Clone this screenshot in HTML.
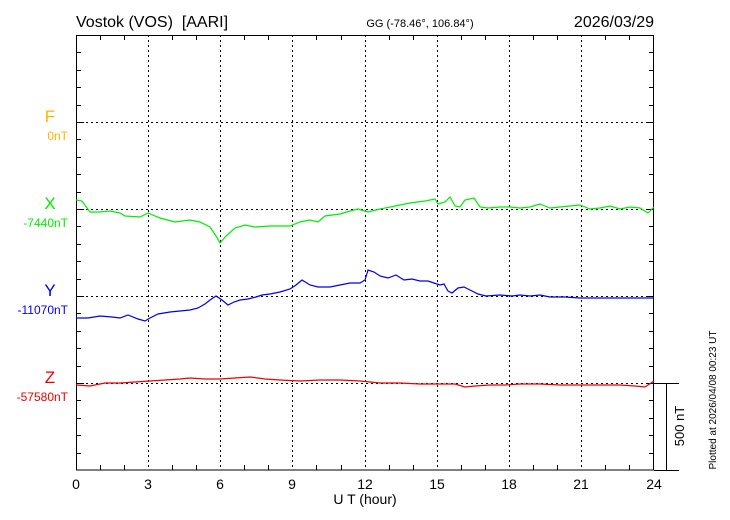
<!DOCTYPE html>
<html><head><meta charset="utf-8"><style>
html,body{margin:0;padding:0;background:#fff;}
svg{display:block;font-family:"Liberation Sans",Arial,sans-serif;}
text{white-space:pre;}
</style></head><body>
<svg width="730" height="520" viewBox="0 0 730 520" xmlns="http://www.w3.org/2000/svg">
<rect width="730" height="520" fill="#fff"/>
<g stroke="#000" stroke-width="1" stroke-dasharray="2,3" fill="none">
<line x1="148.5" y1="35" x2="148.5" y2="470"/>
<line x1="220.5" y1="35" x2="220.5" y2="470"/>
<line x1="292.5" y1="35" x2="292.5" y2="470"/>
<line x1="365.5" y1="35" x2="365.5" y2="470"/>
<line x1="437.5" y1="35" x2="437.5" y2="470"/>
<line x1="509.5" y1="35" x2="509.5" y2="470"/>
<line x1="581.5" y1="35" x2="581.5" y2="470"/>
<line x1="76" y1="122.5" x2="654" y2="122.5"/>
<line x1="76" y1="209.5" x2="654" y2="209.5"/>
<line x1="76" y1="296.5" x2="654" y2="296.5"/>
<line x1="76" y1="383.5" x2="654" y2="383.5"/>
</g>
<rect x="76.5" y="35.5" width="577" height="434.5" fill="none" stroke="#000"/>
<g stroke="#000" stroke-width="1">
<path d="M100.5 35v5M124.5 35v5M172.5 35v5M196.5 35v5M244.5 35v5M268.5 35v5M316.5 35v5M341.5 35v5M389.5 35v5M413.5 35v5M461.5 35v5M485.5 35v5M533.5 35v5M557.5 35v5M605.5 35v5M629.5 35v5"/>
<path d="M100.5 470v-5M124.5 470v-5M172.5 470v-5M196.5 470v-5M244.5 470v-5M268.5 470v-5M316.5 470v-5M341.5 470v-5M389.5 470v-5M413.5 470v-5M461.5 470v-5M485.5 470v-5M533.5 470v-5M557.5 470v-5M605.5 470v-5M629.5 470v-5"/>
<path d="M76 52.5h5M76 70.5h5M76 87.5h5M76 105.5h5M76 122.5h8M76 139.5h5M76 157.5h5M76 174.5h5M76 192.5h5M76 209.5h8M76 226.5h5M76 244.5h5M76 261.5h5M76 279.5h5M76 296.5h8M76 313.5h5M76 331.5h5M76 348.5h5M76 366.5h5M76 383.5h8M76 400.5h5M76 418.5h5M76 435.5h5M76 453.5h5"/>
<path d="M654 52.5h-5M654 70.5h-5M654 87.5h-5M654 105.5h-5M654 122.5h-8M654 139.5h-5M654 157.5h-5M654 174.5h-5M654 192.5h-5M654 209.5h-8M654 226.5h-5M654 244.5h-5M654 261.5h-5M654 279.5h-5M654 296.5h-8M654 313.5h-5M654 331.5h-5M654 348.5h-5M654 366.5h-5M654 383.5h-8M654 400.5h-5M654 418.5h-5M654 435.5h-5M654 453.5h-5"/>
<path d="M654 383.5h25M654 470.5h25M666.5 383v87"/>
</g>
<polyline fill="none" stroke="#00ee00" stroke-width="1.2" points="76,200 82,201 90,212 100,212 110,211 120,213 125,216 140,217 148,213 160,218 175,222 190,220 200,222 210,227 216,236 220,243 226,236 235,228 245,225 255,227 270,226 290,226 300,222 310,220 318,222 325,216 340,214 350,211 358,209 368,212 380,209 395,206 410,203 425,201 435,199 438,204 445,202 450,197 455,206 460,207 465,200 474,198 480,207 488,208 500,207 510,207 520,208 530,207 540,204 550,208 560,207 570,206 580,205 590,209 600,208 610,206 620,209 630,207 640,208 648,213 654,207"/>
<polyline fill="none" stroke="#0000ee" stroke-width="1.2" points="76,318 88,318 100,316 112,317 120,318 128,315 138,319 145,321 150,318 158,314 170,312 180,311 190,310 198,308 205,304 210,300 216,296 222,300 228,305 234,302 240,300 248,299 256,297 262,295 270,294 280,292 290,289 296,285 302,280 310,285 318,287 330,287 340,285 350,283 360,283 365,280 368,270 374,272 380,276 388,278 396,275 404,280 412,279 420,281 428,281 434,283 440,285 444,284 448,291 452,293 458,288 464,287 470,290 478,294 486,296 500,295 512,296 520,295 530,296 540,295 550,297 565,297 580,298 600,298 620,298 640,298 654,298"/>
<polyline fill="none" stroke="#ee0000" stroke-width="1.2" points="76,385 90,386 105,383 120,383 135,382 150,381 165,380 180,379 190,378 205,379 220,379 235,378 250,377 265,379 280,380 300,381 320,380 340,380 360,381 380,383 400,383 420,384 440,384 455,384 465,387 475,386 490,385 505,385 520,384 540,384 560,385 580,385 600,385 620,385 635,386 645,387 654,381"/>
<text x="76" y="27" font-size="16" xml:space="preserve">Vostok (VOS)  [AARI]</text>
<text x="420" y="27" font-size="11" text-anchor="middle">GG (-78.46°, 106.84°)</text>
<text x="654" y="27" font-size="16" text-anchor="end">2026/03/29</text>
<text x="50" y="122" font-size="17" fill="#ffb400" text-anchor="middle">F</text>
<text x="68" y="140" font-size="12" fill="#ffb400" text-anchor="end">0nT</text>
<text x="50" y="209" font-size="17" fill="#00ee00" text-anchor="middle">X</text>
<text x="68" y="227" font-size="12" fill="#00ee00" text-anchor="end">-7440nT</text>
<text x="50" y="296" font-size="17" fill="#0000ee" text-anchor="middle">Y</text>
<text x="68" y="314" font-size="12" fill="#0000ee" text-anchor="end">-11070nT</text>
<text x="50" y="383" font-size="17" fill="#ee0000" text-anchor="middle">Z</text>
<text x="68" y="401" font-size="12" fill="#ee0000" text-anchor="end">-57580nT</text>
<g font-size="14" text-anchor="middle">
<text x="76" y="489">0</text><text x="148" y="489">3</text><text x="220" y="489">6</text><text x="292" y="489">9</text><text x="365" y="489">12</text><text x="437" y="489">15</text><text x="509" y="489">18</text><text x="581" y="489">21</text><text x="654" y="489">24</text>
<text x="365" y="504">U T (hour)</text>
</g>
<text transform="translate(684,426) rotate(-90)" font-size="13" text-anchor="middle">500 nT</text>
<text transform="translate(716,400) rotate(-90)" font-size="10" text-anchor="middle">Plotted at 2026/04/08 00:23 UT</text>
</svg>
</body></html>
